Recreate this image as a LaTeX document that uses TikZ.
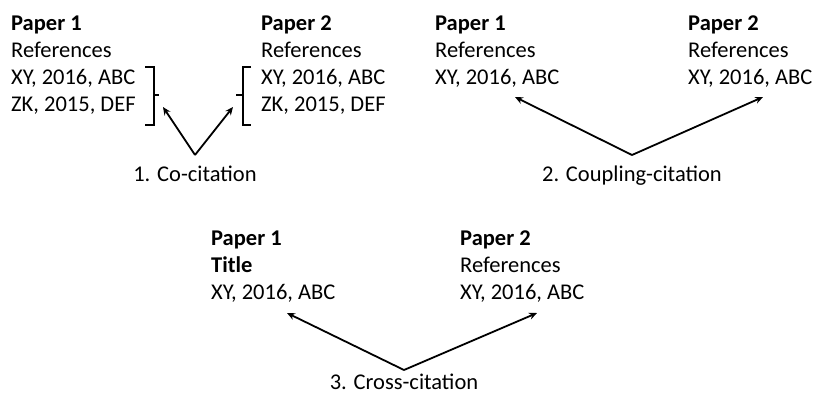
\documentclass[tikz,border=0pt]{standalone}
\usepackage{fontspec}
\setmainfont{Carlito}
\usetikzlibrary{arrows.meta, positioning}

\begin{document}
\begin{tikzpicture}[
    x=1pt, y=-1pt,
    % text lines and connectors
    txt/.style = {font=\fontsize{22.5}{27}\selectfont, inner sep=0pt, anchor=base west},
    ttl/.style = {txt, font=\fontsize{22.5}{27}\selectfont\bfseries},
    lbl/.style = {txt, anchor=base},
    cite/.style = {line width=1.8pt, -{Stealth[length=8pt, width=7pt]}},
    brk/.style = {line width=1.8pt}
]
    \useasboundingbox (0,0) rectangle (813,395);

    % 1. Co-citation
    \node (cApA) [ttl] at (11,31) {Paper 1};
    \node (cArA) [txt] at ([yshift=-27pt]cApA.base west) {References};
    \node (cAxA) [txt] at ([yshift=-27pt]cArA.base west) {XY, 2016, ABC};
    \node (cAzA) [txt] at ([yshift=-27pt]cAxA.base west) {ZK, 2015, DEF};
    \node (cApB) [ttl] at (261,31) {Paper 2};
    \node (cArB) [txt] at ([yshift=-27pt]cApB.base west) {References};
    \node (cAxB) [txt] at ([yshift=-27pt]cArB.base west) {XY, 2016, ABC};
    \node (cAzB) [txt] at ([yshift=-27pt]cAxB.base west) {ZK, 2015, DEF};
    \draw [brk] (145,67) -- (154,67) -- (154,125) -- (145,125);
    \draw [brk] (154,95) -- (159,95);
    \draw [brk] (251,67) -- (243,67) -- (243,125) -- (251,125);
    \draw [brk] (243,95) -- (236,95);
    \node (labA) [lbl] at (195,182) {1. Co-citation};
    \coordinate (vA) at (195,155);
    \coordinate (tAl) at (163,107);
    \coordinate (tAr) at (233,107);
    \draw [cite] (vA) -- (tAl);
    \draw [cite] (vA) -- (tAr);

    % 2. Coupling-citation
    \node (cBpA) [ttl] at (435,31) {Paper 1};
    \node (cBrA) [txt] at ([yshift=-27pt]cBpA.base west) {References};
    \node (cBxA) [txt] at ([yshift=-27pt]cBrA.base west) {XY, 2016, ABC};
    \node (cBpB) [ttl] at (688,31) {Paper 2};
    \node (cBrB) [txt] at ([yshift=-27pt]cBpB.base west) {References};
    \node (cBxB) [txt] at ([yshift=-27pt]cBrB.base west) {XY, 2016, ABC};
    \node (labB) [lbl] at (632,182) {2. Coupling-citation};
    \coordinate (vB) at (632,155);
    \draw [cite] (vB) -- (515,97);
    \draw [cite] (vB) -- (763,97);

    % 3. Cross-citation
    \node (cCpA) [ttl] at (211,245) {Paper 1};
    \node (cCtA) [ttl] at ([yshift=-27pt]cCpA.base west) {Title};
    \node (cCxA) [txt] at ([yshift=-27pt]cCtA.base west) {XY, 2016, ABC};
    \node (cCpB) [ttl] at (460,245) {Paper 2};
    \node (cCrB) [txt] at ([yshift=-27pt]cCpB.base west) {References};
    \node (cCxB) [txt] at ([yshift=-27pt]cCrB.base west) {XY, 2016, ABC};
    \node (labC) [lbl] at (404,389) {3. Cross-citation};
    \coordinate (vC) at (404,370);
    \draw [cite] (vC) -- (287,313);
    \draw [cite] (vC) -- (537,313);

\end{tikzpicture}
\end{document}
